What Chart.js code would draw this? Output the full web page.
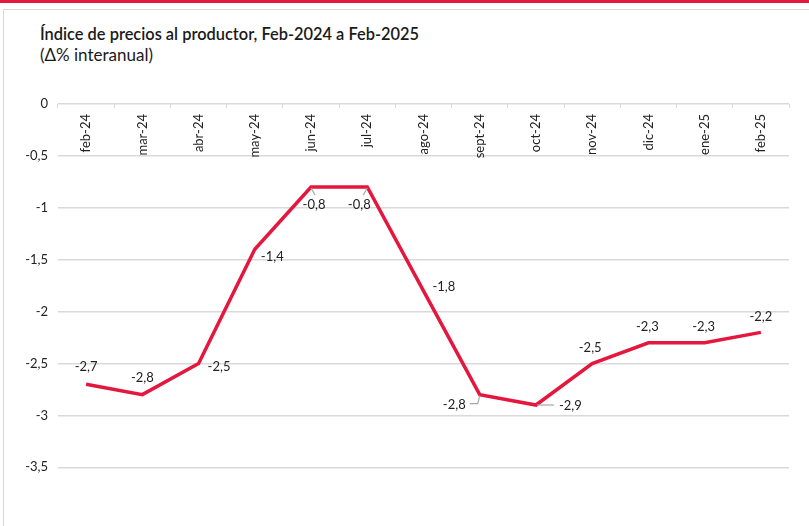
<!DOCTYPE html>
<html>
<head>
<meta charset="utf-8">
<script src="https://cdn.jsdelivr.net/npm/chart.js@4/dist/chart.umd.min.js"></script>
<style>
  html, body { margin: 0; padding: 0; background: #fff; }
  #wrap { position: relative; width: 809px; height: 526px; overflow: hidden; }
  #topbar { position: absolute; left: 0; top: 0; width: 809px; height: 3px; background: #e4173e; }
  #frame { position: absolute; left: 3px; top: 9px; width: 820px; height: 530px; border-left: 1.5px solid #d9d9d9; border-top: 1.5px solid #d9d9d9; box-sizing: border-box; }
  #title { position: absolute; left: 40px; top: 23px; font: 600 16.4px Lato, "Open Sans", sans-serif; color: #1a1a1a; line-height: 22px; white-space: nowrap; }
  #subtitle { position: absolute; left: 40px; top: 45px; font: 400 17px Lato, "Open Sans", sans-serif; color: #1a1a1a; line-height: 20px; white-space: nowrap; }
  canvas { position: absolute; left: 0; top: 0; }
</style>
</head>
<body>
<div id="wrap">
  <div id="topbar"></div>
  <div id="frame"></div>
  <div id="title">Índice de precios al productor, Feb-2024 a Feb-2025</div>
  <div id="subtitle">(Δ% interanual)</div>
  <canvas id="c" width="809" height="537"></canvas>
</div>
<script>
const categories = ['feb-24','mar-24','abr-24','may-24','jun-24','jul-24','ago-24','sept-24','oct-24','nov-24','dic-24','ene-25','feb-25'];
const ippValues = [-2.7, -2.8, -2.5, -1.4, -0.8, -0.8, -1.8, -2.8, -2.9, -2.5, -2.3, -2.3, -2.2];
const yTickValues = [0, -0.5, -1, -1.5, -2, -2.5, -3, -3.5];

// label placement (style only): offsets relative to each point
const labelPlacement = [
  {dx: 0,   dy: -17, align: 'center'},
  {dx: 0,   dy: -17, align: 'center'},
  {dx: 9,   dy: 3,   align: 'left'},
  {dx: 6,   dy: 7,   align: 'left'},
  {dx: 3,   dy: 18,  align: 'center', leader: [[0,1],[4,8]]},
  {dx: -8,  dy: 18,  align: 'center', leader: [[0,1],[-4,8]]},
  {dx: 9,   dy: -4,  align: 'left'},
  {dx: -14, dy: 10,  align: 'right', leader: [[0,1],[-2,9],[-10,9]]},
  {dx: 23,  dy: 1,   align: 'left', leader: [[1,0],[18,0]]},
  {dx: -2,  dy: -16, align: 'center'},
  {dx: -1,  dy: -16, align: 'center'},
  {dx: -1,  dy: -16, align: 'center'},
  {dx: 0,   dy: -16, align: 'center'}
];

const fmt = v => String(v).replace('.', ',');
const FONT = 'Lato, "Open Sans", sans-serif';

const valueLabels = {
  id: 'valueLabels',
  afterDatasetsDraw(chart) {
    const ctx = chart.ctx;
    const meta = chart.getDatasetMeta(0);
    ctx.save();
    meta.data.forEach((pt, i) => {
      const p = labelPlacement[i];
      if (p.leader) {
        ctx.strokeStyle = '#a6a6a6';
        ctx.lineWidth = 1.2;
        ctx.beginPath();
        p.leader.forEach(([lx, ly], k) => {
          if (k === 0) ctx.moveTo(pt.x + lx, pt.y + ly); else ctx.lineTo(pt.x + lx, pt.y + ly);
        });
        ctx.stroke();
      }
      ctx.fillStyle = '#222';
      ctx.font = '13px ' + FONT;
      ctx.textAlign = p.align;
      ctx.textBaseline = 'middle';
      ctx.fillText(fmt(ippValues[i]), pt.x + p.dx, pt.y + p.dy);
    });
    ctx.restore();
  }
};

new Chart(document.getElementById('c'), {
  type: 'line',
  data: {
    labels: categories,
    datasets: [{
      data: ippValues,
      borderColor: '#e4173e',
      borderWidth: 3.5,
      pointRadius: 0,
      tension: 0,
      fill: false
    }]
  },
  options: {
    responsive: false,
    animation: false,
    layout: { padding: { left: 2, top: 104, right: 20, bottom: 8 } },
    plugins: { legend: { display: false }, tooltip: { enabled: false } },
    scales: {
      x: {
        type: 'category',
        position: { y: 0 },
        offset: true,
        border: { display: false },
        afterFit(scale) { scale.height = 0; },
        grid: { offset: true, drawOnChartArea: false, drawTicks: true, tickLength: 4, color: '#d9d9d9', lineWidth: 1 },
        ticks: { autoSkip: false, minRotation: 90, maxRotation: 90, padding: 6, color: '#222', font: { family: FONT, size: 13 } }
      },
      y: {
        min: -4,
        max: 0,
        border: { display: false },
        afterBuildTicks(scale) { scale.ticks = yTickValues.map(v => ({ value: v })); },
        afterFit(scale) { scale.width = 56; },
        grid: { drawTicks: false, color: '#d9d9d9', lineWidth: 1.6 },
        ticks: { padding: 10, color: '#222', font: { family: FONT, size: 13 }, callback: v => fmt(v) }
      }
    }
  },
  plugins: [valueLabels]
});
</script>
</body>
</html>
